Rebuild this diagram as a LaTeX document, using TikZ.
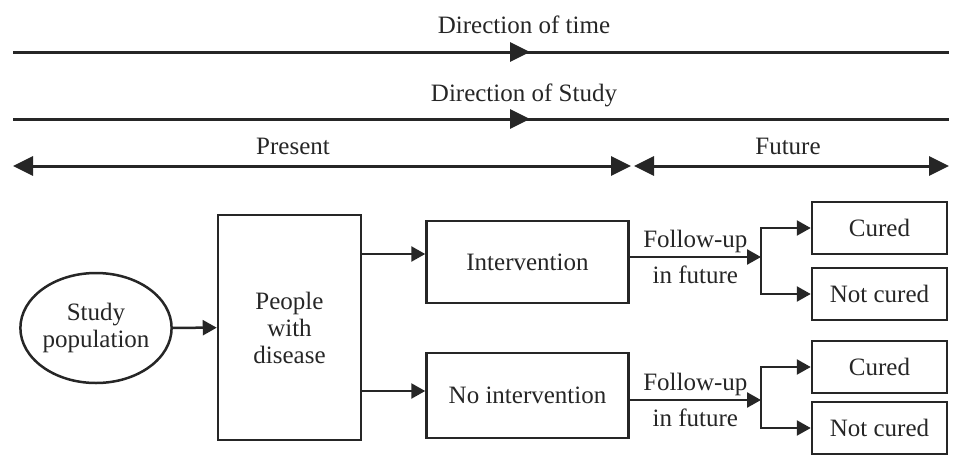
\documentclass[tikz,border=0pt]{standalone}
\usepackage{fontspec}
\setmainfont{Liberation Serif}
\usetikzlibrary{arrows.meta,shapes.geometric}

\begin{document}
\begin{tikzpicture}[x=1pt,y=-1pt,
    every node/.style={font=\fontsize{25}{27}\selectfont,text=black!85},
    box/.style={shape=rectangle,draw=black!85,line width=2.5pt,inner sep=0pt,align=center},
    outcome/.style={box,minimum width=135pt,minimum height=52pt},
    timeline/.style={draw=black!85,line width=3pt},
    big/.style={timeline,-{Triangle[length=20pt,width=19pt]}},
    bigboth/.style={timeline,{Triangle[length=20pt,width=19pt]}-{Triangle[length=20pt,width=19pt]}},
    small/.style={draw=black!85,line width=2.5pt,-{Triangle[length=14pt,width=15pt]}}]
        \useasboundingbox (0,0) rectangle (957,461);

        % time axes
        \node (time) at (524,25) {Direction of time};
        \coordinate (T1) at (13,52);
        \coordinate (T2) at (949,52);
        \coordinate (TM) at (530,52);
        \path (T1) edge [timeline] (T2);
        \path (T1) edge [big] (TM);

        \node (study) at (524,95) {Direction of Study};
        \coordinate (S1) at (13,119);
        \coordinate (S2) at (949,119);
        \coordinate (SM) at (530,119);
        \path (S1) edge [timeline] (S2);
        \path (S1) edge [big] (SM);

        \node (present) at (293,146) {Present};
        \node (future) at (788,146) {Future};
        \coordinate (P1) at (13,166);
        \coordinate (P2) at (631,166);
        \coordinate (F1) at (634,166);
        \coordinate (F2) at (949,166);
        \path (P1) edge [bigboth] (P2);
        \path (F1) edge [bigboth] (F2);

        % design
        \node[shape=ellipse,draw=black!85,line width=2.5pt,inner sep=0pt,
              minimum width=147pt,minimum height=110pt,align=center] (pop) at (96,328) {Study\\population};
        \node[box,minimum width=143pt,minimum height=225pt] (pwd) at (289.5,327.5) {People\\with\\disease};
        \node[box,minimum width=202pt,minimum height=82pt] (int) at (527.5,262) {Intervention};
        \node[box,minimum width=202pt,minimum height=85pt] (noint) at (527.5,395.5) {No intervention};

        \node[outcome] (C1) at (879.5,228) {Cured};
        \node[outcome] (N1) at (879.5,294) {Not cured};
        \node[outcome] (C2) at (879.5,367) {Cured};
        \node[outcome] (N2) at (879.5,428) {Not cured};

        \coordinate (s1) at (361,254);
        \coordinate (s2) at (361,391);
        \coordinate (b1) at (761,257);
        \coordinate (b2) at (761,400);

        \path (pop) edge [small] (pwd);
        \path (s1) edge [small] (s1 -| int.west);
        \path (s2) edge [small] (s2 -| noint.west);

        \path (int.east |- b1) edge [small] node[above] {Follow-up} node[below=4pt] {in future} (b1);
        \path (noint.east |- b2) edge [small] node[above] {Follow-up} node[below=4pt] {in future} (b2);

        \draw [small] (b1) |- (C1.west);
        \draw [small] (b1) |- (N1.west);
        \draw [small] (b2) |- (C2.west);
        \draw [small] (b2) |- (N2.west);
    \end{tikzpicture}
\end{document}
